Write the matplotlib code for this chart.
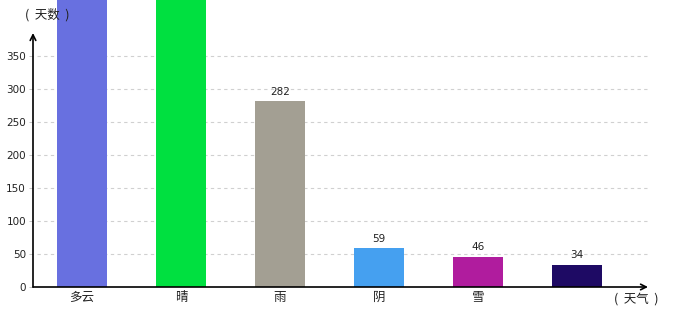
import matplotlib.pyplot as plt

plt.rcParams['font.family'] = ['Noto Sans CJK SC', 'DejaVu Sans']

weather = ['多云', '晴', '雨', '阴', '雪', '']
days = [480, 470, 282, 59, 46, 34]
show_label = [False, False, True, True, True, True]
colors = ['#6870e0', '#00e040', '#a39f93', '#45a0f0', '#b01c9e', '#1e0a64']
yticks = [0, 50, 100, 150, 200, 250, 300, 350]

fig = plt.figure(figsize=(6.8, 3.2), dpi=100)
ax = fig.add_axes([33 / 680, 1 - 287 / 320, (648 - 33) / 680, (287 - 33) / 320])

x = list(range(len(weather)))
bars = ax.bar(x, days, width=0.5, color=colors, zorder=3, clip_on=False)
for b, v, s in zip(bars, days, show_label):
    if s:
        ax.annotate(str(v), (b.get_x() + b.get_width() / 2, v), xytext=(0, 3),
                    textcoords='offset points', ha='center', va='bottom',
                    fontsize=7.5, color='#222222', family='DejaVu Sans')

ax.set_xlim(-0.495, 5.717)
ax.set_ylim(0, 385)

for t in yticks[1:]:
    ax.axhline(t, xmin=0.006, xmax=1, color='#d0d0d0', lw=0.8,
               ls=(0, (3, 3)), zorder=1)

ax.set_yticks(yticks)
ax.set_yticklabels([str(t) for t in yticks], fontsize=7.5, color='#222222',
                   family='DejaVu Sans')
ax.tick_params(axis='y', length=3, width=0.6, color='#bbbbbb', pad=2)
ax.set_xticks(x)
ax.set_xticklabels(weather, fontsize=9, color='#222222')
ax.tick_params(axis='x', length=0, pad=3)

for side in ['top', 'right', 'left', 'bottom']:
    ax.spines[side].set_visible(False)

# axis arrows
ax.annotate('', xy=(1.0, 0), xytext=(0, 0), xycoords='axes fraction',
            arrowprops=dict(arrowstyle='->', color='black', lw=1.2,
                            shrinkA=0, shrinkB=0), zorder=5)
ax.annotate('', xy=(0, 1.0), xytext=(0, 0), xycoords='axes fraction',
            arrowprops=dict(arrowstyle='->', color='black', lw=1.2,
                            shrinkA=0, shrinkB=0), zorder=5)

fig.text(47 / 680, 1 - 15 / 320, '(  天数  )', ha='center', va='center',
         fontsize=9, color='#222222')
fig.text(636 / 680, 1 - 299 / 320, '(  天气  )', ha='center', va='center',
         fontsize=9, color='#222222')

fig.savefig('out.png', dpi=100, facecolor='white')
